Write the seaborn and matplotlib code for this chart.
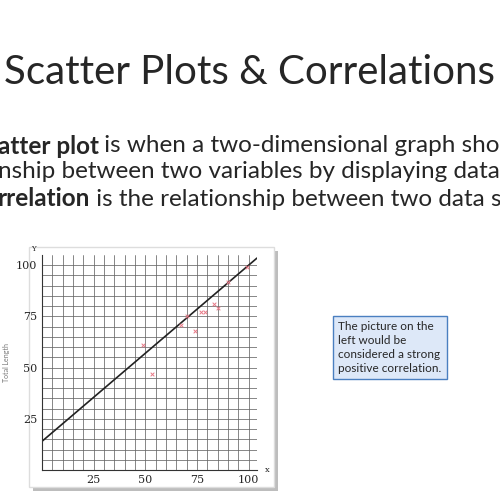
import numpy as np
import pandas as pd
import seaborn as sns
import matplotlib.pyplot as plt
from matplotlib.patches import Rectangle

sns.set_style('white')
plt.rcParams['font.family'] = ['Lato', 'DejaVu Sans']

# data
x_vals = [49, 53, 67, 70, 74, 77, 79, 83, 85, 90, 99]
y_vals = [61, 47, 71, 75, 68, 77, 77, 81, 79, 92, 99]
line_x = [0, 104]
line_y = [14, 103.5]
ticks = [25, 50, 75, 100]

df = pd.DataFrame({'x': x_vals, 'y': y_vals})

fig = plt.figure(figsize=(5, 5), dpi=100)
fig.patch.set_facecolor('white')
renderer = fig.canvas.get_renderer()

# slide text
fig.text(0.008, 0.855, 'Scatter Plots & Correlations', fontsize=29, va='center', ha='left')


def mixed_line(y, bold, rest):
    t = fig.text(-0.005, y, bold, fontsize=17.5, va='center', weight='bold')
    ext = t.get_window_extent(renderer)
    fig.text(ext.x1 / 500, y, rest, fontsize=17.5, va='center')


mixed_line(0.708, 'atter plot', ' is when a two-dimensional graph shows')
fig.text(-0.005, 0.656, 'nship between two variables by displaying data', fontsize=17.5, va='center')
mixed_line(0.602, 'rrelation', ' is the relationship between two data s')

# picture frame with shadow
bg = fig.add_axes([0, 0, 1, 1], zorder=0)
bg.axis('off')
bg.set_xlim(0, 1)
bg.set_ylim(0, 1)
bg.add_patch(Rectangle((0.065, 0.018), 0.49, 0.48, facecolor='#bdbdbd', edgecolor='none'))
bg.add_patch(Rectangle((0.058, 0.026), 0.49, 0.48, facecolor='white', edgecolor='#dddddd'))

ax = fig.add_axes([0.084, 0.06, 0.43, 0.43], zorder=1)
ax.set_xlim(0, 104)
ax.set_ylim(0, 105)
ax.set_xticks(np.arange(0, 105, 5), minor=True)
ax.set_yticks(np.arange(0, 105, 5), minor=True)
ax.set_xticks(ticks)
ax.set_yticks(ticks)
ax.grid(which='both', color='#666666', linewidth=0.55)
for s in ['top', 'right']:
    ax.spines[s].set_visible(False)
for s in ['left', 'bottom']:
    ax.spines[s].set_color('#333333')
ax.tick_params(which='both', labelsize=8, length=0)
for lab in ax.get_xticklabels() + ax.get_yticklabels():
    lab.set_family('DejaVu Serif')
ax.plot(line_x, line_y, color='#222222', linewidth=1.2)
sns.scatterplot(data=df, x='x', y='y', marker='x', color='#e87a88', s=7, linewidth=0.7, ax=ax, zorder=3)
ax.set_xlabel('')
ax.set_ylabel('Total Length', fontsize=5, color='#777777')
ax.text(-4, 107, 'Y', fontsize=5, ha='center', family='DejaVu Serif', clip_on=False)
ax.text(109, -1, 'x', fontsize=6, ha='center', family='DejaVu Serif', clip_on=False)

# note box
fig.text(0.676, 0.305, 'The picture on the\nleft would be\nconsidered a strong\npositive correlation.',
         fontsize=8.5, va='center', ha='left', linespacing=1.3,
         bbox=dict(boxstyle='square,pad=0.45', facecolor='#dde8f8', edgecolor='#4a7fc0', linewidth=1))

fig.savefig('out.png', dpi=100)
